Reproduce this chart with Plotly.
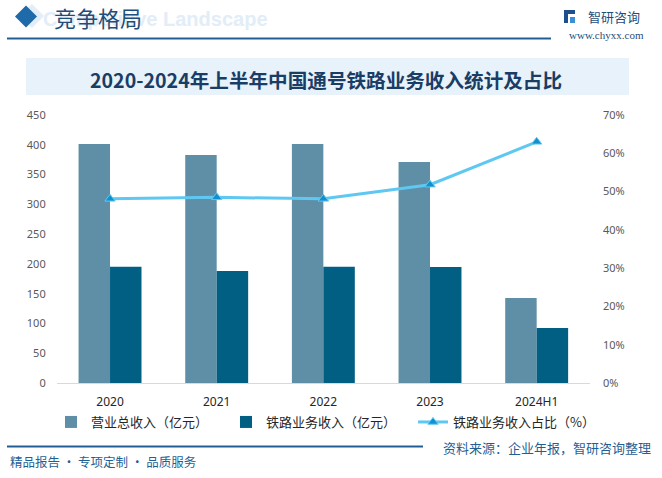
import plotly.graph_objects as go

categories = ["2020", "2021", "2022", "2023", "2024H1"]
total_revenue = [401.3, 382.8, 401.1, 371.0, 142.7]
railway_revenue = [195.3, 188.0, 195.1, 194.8, 92.3]
railway_share = [48.1, 48.5, 48.1, 51.8, 63.0]

left_ticks = [0, 50, 100, 150, 200, 250, 300, 350, 400, 450]
right_ticks = [0, 10, 20, 30, 40, 50, 60, 70]

CJK = "Noto Sans CJK SC"
W, H = 662, 478


def px(x):
    return x / W


def py(y):
    return 1 - y / H


fig = go.Figure()
fig.add_trace(go.Bar(x=categories, y=total_revenue, name="营业总收入（亿元）",
                     marker=dict(color="#5f8fa6", line=dict(width=0)), legend="legend"))
fig.add_trace(go.Bar(x=categories, y=railway_revenue, name="铁路业务收入（亿元）",
                     marker=dict(color="#005f82", line=dict(width=0)), legend="legend2"))
fig.add_trace(go.Scatter(x=categories, y=railway_share, name="铁路业务收入占比（%）",
                         yaxis="y2", mode="lines+markers", legend="legend3",
                         line=dict(color="#5fc8f2", width=3),
                         marker=dict(symbol="triangle-up", size=9, color="#1190d0",
                                     line=dict(color="#5fc8f2", width=1))))

legend_font = dict(family=CJK, size=13, color="#262626")
leg_common = dict(orientation="h", yanchor="middle", xanchor="left", y=py(422),
                  font=legend_font, bgcolor="rgba(0,0,0,0)", borderwidth=0,
                  itemwidth=30)

fig.update_layout(
    width=W, height=H,
    margin=dict(l=0, r=0, t=0, b=0, autoexpand=False),
    paper_bgcolor="white", plot_bgcolor="white",
    bargap=0.41, bargroupgap=0, barmode="group",
    font=dict(family=CJK, size=11, color="#595959"),
    xaxis=dict(domain=[px(56.7), px(590)], anchor="y", showgrid=False,
               showline=True, linecolor="#d9d9d9", linewidth=1,
               ticks="", ticklabelstandoff=8,
               tickfont=dict(family="Noto Sans", size=12, color="#262626")),
    yaxis=dict(domain=[py(383), py(115)], range=[0, 450], tickvals=left_ticks,
               showgrid=False, zeroline=False, ticks="", ticklabelstandoff=10,
               tickfont=dict(family="Noto Sans", size=11, color="#595959")),
    yaxis2=dict(overlaying="y", side="right", range=[0, 70], tickvals=right_ticks,
                ticktext=[f"{v}%" for v in right_ticks], showgrid=False, zeroline=False,
                ticks="", ticklabelstandoff=12,
                tickfont=dict(family="Noto Sans", size=11, color="#595959")),
    legend=dict(x=px(51), **leg_common),
    legend2=dict(x=px(226), **leg_common),
    legend3=dict(x=px(413), **leg_common),
    showlegend=True,
)

shapes = [
    # title band
    dict(type="rect", xref="paper", yref="paper", x0=px(26), x1=px(629),
         y0=py(95), y1=py(58), fillcolor="#e8f2fa", line=dict(width=0), layer="below"),
    # header line
    dict(type="line", xref="paper", yref="paper", x0=px(7), x1=px(551),
         y0=py(38.5), y1=py(38.5), line=dict(color="#1f5f96", width=2)),
    # footer line
    dict(type="line", xref="paper", yref="paper", x0=px(7), x1=px(423),
         y0=py(446.5), y1=py(446.5), line=dict(color="#1f5f96", width=2)),
    # ghost diamond
    dict(type="path", xref="paper", yref="paper",
         path=f"M {px(20)} {py(16)} L {px(32)} {py(4)} L {px(44)} {py(16)} L {px(32)} {py(28)} Z",
         fillcolor="#e3eef8", line=dict(width=0), layer="below"),
    # diamond
    dict(type="path", xref="paper", yref="paper",
         path=f"M {px(15)} {py(16.5)} L {px(26)} {py(5.5)} L {px(37)} {py(16.5)} L {px(26)} {py(27.5)} Z",
         fillcolor="#1f6aa8", line=dict(width=0)),
    # logo mark
    dict(type="rect", xref="paper", yref="paper", x0=px(564), x1=px(568),
         y0=py(23), y1=py(10), fillcolor="#1f4e8c", line=dict(width=0)),
    dict(type="rect", xref="paper", yref="paper", x0=px(570), x1=px(575),
         y0=py(23), y1=py(17), fillcolor="#3a8fd6", line=dict(width=0)),
    dict(type="rect", xref="paper", yref="paper", x0=px(568), x1=px(575),
         y0=py(14), y1=py(10), fillcolor="#1f4e8c", line=dict(width=0)),
]
fig.update_layout(shapes=shapes)

annotations = [
    dict(text="<b>Competitive Landscape</b>", x=px(270), y=py(19), xref="paper", yref="paper",
         showarrow=False, xanchor="right", yanchor="middle",
         font=dict(family="Liberation Sans", size=20, color="#e2edf7")),
    dict(text="竞争格局", x=px(52), y=py(17), xref="paper", yref="paper",
         showarrow=False, xanchor="left", yanchor="middle",
         font=dict(family=CJK, size=22, color="#1f4e79")),
    dict(text="<b>2020-2024年上半年中国通号铁路业务收入统计及占比</b>", x=px(326), y=py(79),
         xref="paper", yref="paper", showarrow=False, xanchor="center", yanchor="middle",
         font=dict(family=CJK, size=19.6, color="#1a3d66")),
    dict(text="智研咨询", x=px(586), y=py(16.5), xref="paper", yref="paper",
         showarrow=False, xanchor="left", yanchor="middle",
         font=dict(family=CJK, size=13, color="#1f4e79")),
    dict(text="www.chyxx.com", x=px(606), y=py(35), xref="paper", yref="paper",
         showarrow=False, xanchor="center", yanchor="middle",
         font=dict(family="Liberation Serif", size=11, color="#1f4e79")),
    dict(text="精品报告 · 专项定制 · 品质服务", x=px(8), y=py(461), xref="paper", yref="paper",
         showarrow=False, xanchor="left", yanchor="middle",
         font=dict(family=CJK, size=12.5, color="#1f5f96")),
    dict(text="资料来源：企业年报，智研咨询整理", x=px(653), y=py(447), xref="paper", yref="paper",
         showarrow=False, xanchor="right", yanchor="middle",
         font=dict(family=CJK, size=13, color="#1f5f96")),
]
fig.update_layout(annotations=annotations)

fig.write_html("out.html", config={"displayModeBar": False},
               post_script="document.body.style.margin='0';document.body.style.overflow='hidden';")
